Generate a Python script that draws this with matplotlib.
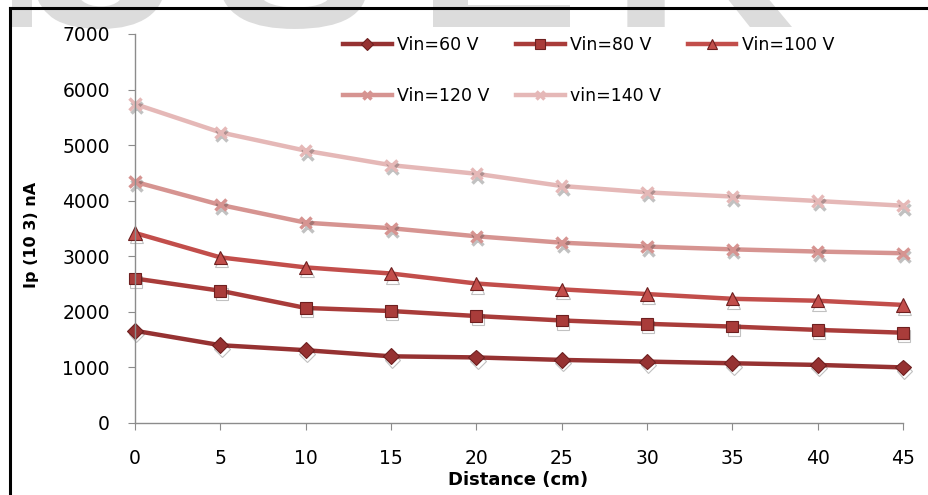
import matplotlib.pyplot as plt
import matplotlib.patheffects as pe
from matplotlib.lines import Line2D
from matplotlib.patches import PathPatch
from matplotlib.path import Path
from matplotlib.textpath import TextPath
from matplotlib.font_manager import FontProperties

distance = [0, 5, 10, 15, 20, 25, 30, 35, 40, 45]
vin_60 = [1660, 1400, 1310, 1200, 1180, 1135, 1105, 1075, 1045, 1000]
vin_80 = [2600, 2380, 2070, 2015, 1925, 1845, 1785, 1735, 1675, 1625]
vin_100 = [3420, 2980, 2800, 2690, 2510, 2405, 2320, 2235, 2200, 2125]
vin_120 = [4340, 3925, 3605, 3505, 3360, 3245, 3175, 3125, 3085, 3055]
vin_140 = [5740, 5230, 4900, 4640, 4485, 4265, 4150, 4075, 3995, 3910]

series = [
    ("Vin=60 V", vin_60, "#963232", "D", 8),
    ("Vin=80 V", vin_80, "#A93C3A", "s", 8.5),
    ("Vin=100 V", vin_100, "#C24E4B", "^", 9.5),
    ("Vin=120 V", vin_120, "#D69491", "x", 8),
    ("vin=140 V", vin_140, "#E5B8B7", "x", 8),
]

W, H = 929, 495
fig = plt.figure(figsize=(W / 100, H / 100), dpi=100)

# watermark letters, stretched wide, only their lower part shows
wm_font = FontProperties(family="Liberation Sans", weight="bold")
ref = TextPath((0, 0), "E", size=1, prop=wm_font).vertices
base = ref[:, 1].min()
for letter, x0, x1 in [("I", 3, 32), ("J", 30, 165), ("S", 213, 367),
                       ("E", 417, 570), ("R", 610, 792)]:
    tp = TextPath((0, 0), letter, size=1, prop=wm_font)
    v = tp.vertices.copy()
    bx0, bx1 = v[:, 0].min(), v[:, 0].max()
    sx = (x1 - x0) / (bx1 - bx0)
    v[:, 0] = (x0 + (v[:, 0] - bx0) * sx) / W
    v[:, 1] = (H - 27 + (v[:, 1] - base) * 200) / H
    fig.add_artist(PathPatch(Path(v, tp.codes), transform=fig.transFigure,
                             fc="#dcdcdc", ec="none", zorder=0))

# chart frame: top and left edge only
fig.add_artist(Line2D([10 / W, 1], [1 - 8 / H, 1 - 8 / H],
                      transform=fig.transFigure, color="black", lw=2.2))
fig.add_artist(Line2D([10 / W, 10 / W], [0, 1 - 8 / H],
                      transform=fig.transFigure, color="black", lw=2.2))

ax = fig.add_axes([135 / W, (H - 423) / H, (903 - 135) / W, (423 - 34) / H])
ax.patch.set_alpha(0)

shadow = [pe.SimpleLineShadow(offset=(1, -2.5), shadow_color="#333333", alpha=0.3),
          pe.Normal()]

handles = {}
for label, values, color, marker, ms in series:
    kw = dict(mfc=color, mec=color)
    if marker == "x":
        kw["mew"] = 2.5
    else:
        kw["mew"] = 0.8
        kw["mec"] = "#6e2020"
    ax.plot(distance, values, color=color, lw=3.2, clip_on=False)
    ax.plot(distance, values, ls="none", marker=marker, ms=ms,
            path_effects=shadow, clip_on=False, **kw)
    handles[label] = Line2D([], [], color=color, lw=3.2, marker=marker,
                            ms=ms * 0.8, **kw)

ax.set_xlim(0, 45)
ax.set_ylim(0, 7000)
ax.set_xticks(range(0, 46, 5))
ax.set_yticks(range(0, 7001, 1000))

for side in ("top", "right"):
    ax.spines[side].set_visible(False)
for side in ("left", "bottom"):
    ax.spines[side].set_color("#8c8c8c")
    ax.spines[side].set_linewidth(1)
ax.tick_params(axis="both", direction="out", length=5, color="#8c8c8c",
               labelsize=13.5)
ax.tick_params(axis="y", pad=13)
ax.tick_params(axis="x", pad=14)

fig.text(518 / W, 1 - 480 / H, "Distance (cm)", fontsize=13, fontweight="bold",
         ha="center", va="center")
fig.text(32 / W, 1 - 235 / H, "Ip (10 3) nA", fontsize=11.5, fontweight="bold",
         rotation=90, ha="center", va="center")

# legend fills column by column, so order entries to read across rows
order = ["Vin=60 V", "Vin=120 V", "Vin=80 V", "vin=140 V", "Vin=100 V"]
fig.legend([handles[k] for k in order], order, loc="upper left",
           bbox_to_anchor=(343 / W, 1 - 36 / H), ncol=3,
           frameon=False, fontsize=12.5, handlelength=2.8, handletextpad=0.3,
           columnspacing=1.55, labelspacing=1.9, borderpad=0, borderaxespad=0)

fig.savefig("out.png", dpi=100)
